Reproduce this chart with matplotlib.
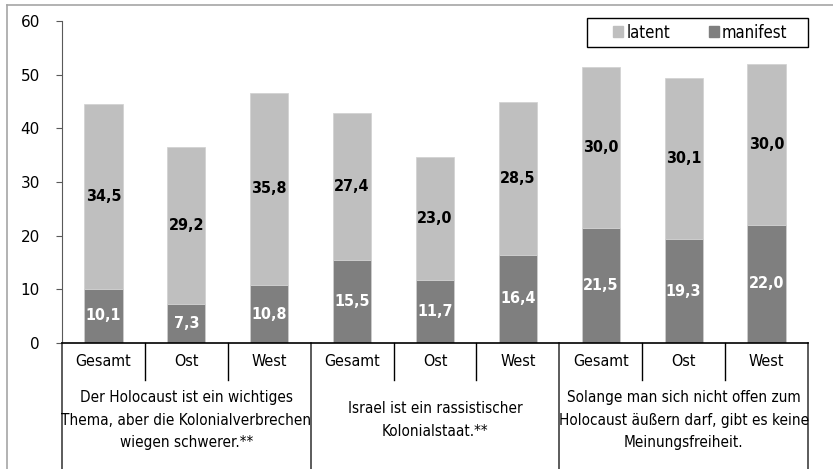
import matplotlib
matplotlib.use('Agg')
import matplotlib.pyplot as plt
import matplotlib.transforms as mtransforms
from matplotlib.patches import Patch, Rectangle
from matplotlib.lines import Line2D

# data
subgroups = ['Gesamt', 'Ost', 'West'] * 3
groups = ['Der Holocaust ist ein wichtiges\nThema, aber die Kolonialverbrechen\nwiegen schwerer.**',
          'Israel ist ein rassistischer\nKolonialstaat.**',
          'Solange man sich nicht offen zum\nHolocaust äußern darf, gibt es keine\nMeinungsfreiheit.']
manifest = [10.1, 7.3, 10.8, 15.5, 11.7, 16.4, 21.5, 19.3, 22.0]
latent = [34.5, 29.2, 35.8, 27.4, 23.0, 28.5, 30.0, 30.1, 30.0]
yticks = [0, 10, 20, 30, 40, 50, 60]

c_latent = '#bfbfbf'
c_manifest = '#7f7f7f'
narrow = dict(family='DejaVu Sans', fontstretch='condensed')

W, H = 833, 469
fig = plt.figure(figsize=(W / 100, H / 100), dpi=100)
ax = fig.add_axes([62 / W, 1 - 343 / H, (808 - 62) / W, (343 - 21) / H])

x = list(range(len(manifest)))
ax.bar(x, manifest, width=0.46, color=c_manifest, edgecolor='#d0d0d0', linewidth=0.5, zorder=2)
ax.bar(x, latent, width=0.46, bottom=manifest, color=c_latent, edgecolor='#d0d0d0', linewidth=0.5, zorder=2)

for i in x:
    ax.text(i, manifest[i] / 2, f'{manifest[i]:.1f}'.replace('.', ','), ha='center', va='center',
            color='white', fontsize=11.5, fontweight='bold', zorder=3, **narrow)
    ax.text(i, manifest[i] + latent[i] / 2, f'{latent[i]:.1f}'.replace('.', ','), ha='center', va='center',
            color='black', fontsize=11.5, fontweight='bold', zorder=3, **narrow)

ax.set_xlim(-0.5, len(x) - 0.5)
ax.set_ylim(0, 60)
ax.set_yticks(yticks)
ax.set_yticklabels([str(t) for t in yticks], fontsize=11)
ax.set_xticks([])
for s in ['top', 'right']:
    ax.spines[s].set_visible(False)
ax.spines['left'].set_color('#595959')
ax.spines['bottom'].set_color('black')
ax.spines['bottom'].set_linewidth(1.2)
ax.tick_params(axis='y', length=4, color='#595959', pad=12)

# multi-level category axis
trans = mtransforms.blended_transform_factory(ax.transData, fig.transFigure)
for i, lab in enumerate(subgroups):
    ax.text(i, 1 - 361 / H, lab, transform=trans, ha='center', va='center',
            fontsize=11.5, **narrow)
for k, g in enumerate(groups):
    ax.text(3 * k + 1, 1 - 420 / H, g, transform=trans, ha='center', va='center',
            fontsize=11, linespacing=1.6, **narrow)
for b in range(len(x) + 1):
    xb = b - 0.5
    if b % 3 == 0:
        ax.add_line(Line2D([xb, xb], [1 - 343 / H, 0], transform=trans, color='#404040',
                           linewidth=1.2, clip_on=False))
    else:
        ax.add_line(Line2D([xb, xb], [1 - 343 / H, 1 - 380 / H], transform=trans, color='black',
                           linewidth=1.0, clip_on=False))

# legend with a hand-drawn frame
x0, x1, y0, y1 = 587 / W, 808 / W, 1 - 47 / H, 1 - 18 / H
fig.add_artist(Rectangle((x0, y0), x1 - x0, y1 - y0, transform=fig.transFigure,
                         facecolor='white', edgecolor='black', linewidth=1.0, zorder=4))
handles = [Patch(color=c_latent, label='latent'), Patch(color=c_manifest, label='manifest')]
leg = fig.legend(handles=handles, ncol=2, loc='center', bbox_to_anchor=((x0 + x1) / 2 + 3 / W, (y0 + y1) / 2),
                 frameon=False, handlelength=0.6, handleheight=0.6,
                 handletextpad=0.2, columnspacing=2.3, borderpad=0,
                 prop={'family': 'DejaVu Sans', 'stretch': 'condensed', 'size': 12})
leg.set_zorder(5)

# outer chart border
fig.add_artist(Line2D([7 / W, 1], [1 - 5 / H, 1 - 5 / H], transform=fig.transFigure, color='#a6a6a6', linewidth=1.2))
fig.add_artist(Line2D([7 / W, 7 / W], [0, 1 - 5 / H], transform=fig.transFigure, color='#a6a6a6', linewidth=1.2))

fig.savefig('out.png', dpi=100)
